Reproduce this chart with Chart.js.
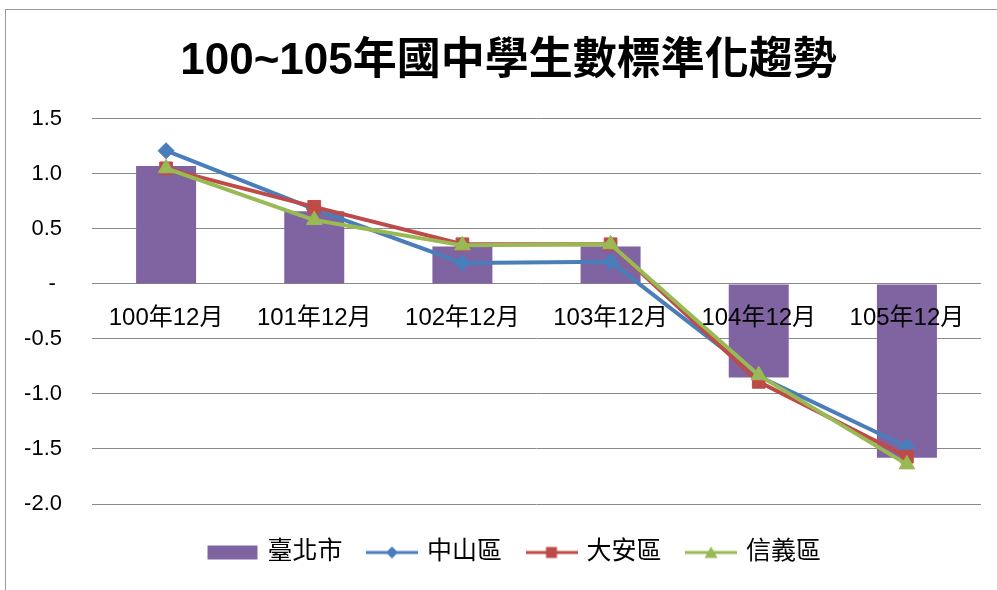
<!DOCTYPE html>
<html>
<head>
<meta charset="utf-8">
<script src="https://cdn.jsdelivr.net/npm/chart.js@4"></script>
<style>
html,body{margin:0;padding:0;background:#fff;}
canvas{display:block;}
</style>
</head>
<body>
<canvas id="c" width="997" height="590"></canvas>
<script>
const titleText = '100~105年國中學生數標準化趨勢';
const categories = ['100年12月', '101年12月', '102年12月', '103年12月', '104年12月', '105年12月'];
const seriesNames = ['臺北市', '中山區', '大安區', '信義區'];
const taipeiCity = [1.07, 0.66, 0.34, 0.34, -0.85, -1.58];
const zhongshan = [1.21, 0.68, 0.19, 0.20, -0.84, -1.48];
const daan = [1.05, 0.70, 0.36, 0.36, -0.89, -1.57];
const xinyi = [1.05, 0.58, 0.35, 0.36, -0.83, -1.64];
const yTickValues = [-2.0, -1.5, -1.0, -0.5, 0, 0.5, 1.0, 1.5];
const yTickLabels = ['-2.0', '-1.5', '-1.0', '-0.5', '- ', '0.5', '1.0', '1.5'];

const COLORS = {
  bar: '#8064A2',
  blue: '#4A7EBB',
  red: '#BE4B48',
  green: '#98B954'
};
const FONT = '"Liberation Sans", "Noto Sans CJK TC", sans-serif';

function makeIcon(kind, color) {
  const cv = document.createElement('canvas');
  cv.width = 52; cv.height = 16;
  const g = cv.getContext('2d');
  g.fillStyle = color; g.strokeStyle = color;
  if (kind === 'bar') {
    g.fillRect(1, 1, 50, 14);
    return cv;
  }
  g.lineWidth = 3;
  g.beginPath(); g.moveTo(0, 8); g.lineTo(52, 8); g.stroke();
  g.beginPath();
  if (kind === 'diamond') {
    g.moveTo(26, 2); g.lineTo(32, 8); g.lineTo(26, 14); g.lineTo(20, 8); g.closePath();
  } else if (kind === 'square') {
    g.rect(20.5, 2.5, 11, 11);
  } else {
    g.moveTo(26, 2); g.lineTo(32.5, 13.5); g.lineTo(19.5, 13.5); g.closePath();
  }
  g.fill();
  return cv;
}
const legendIcons = [
  makeIcon('bar', COLORS.bar),
  makeIcon('diamond', COLORS.blue),
  makeIcon('square', COLORS.red),
  makeIcon('triangle', COLORS.green)
];

const framePlugin = {
  id: 'frame',
  beforeDraw(chart) {
    const ctx = chart.ctx;
    ctx.save();
    ctx.fillStyle = '#ffffff';
    ctx.fillRect(0, 0, chart.width, chart.height);
    ctx.strokeStyle = '#9a9a9a';
    ctx.lineWidth = 1;
    ctx.strokeRect(5.5, 9.5, 1100, 700);
    ctx.restore();
  }
};

const placePlugin = {
  id: 'place',
  afterLayout(chart) {
    const lg = chart.legend;
    if (lg) {
      lg.left += 13; lg.right += 13;
      const h = lg.bottom - lg.top;
      lg.top = 513; lg.bottom = 513 + h;
    }
    const tb = chart.titleBlock;
    if (tb) { tb.left += 6; tb.right += 6; }
  }
};

new Chart(document.getElementById('c'), {
  type: 'bar',
  data: {
    labels: categories,
    datasets: [
      {
        type: 'bar', label: seriesNames[0], data: taipeiCity,
        backgroundColor: COLORS.bar, borderWidth: 0,
        barPercentage: 0.405, categoryPercentage: 1.0, order: 4
      },
      {
        type: 'line', label: seriesNames[1], data: zhongshan,
        borderColor: COLORS.blue, backgroundColor: COLORS.blue, borderWidth: 4,
        pointStyle: 'rectRot', pointRadius: 8, pointHoverRadius: 8, pointBorderWidth: 1,
        tension: 0, fill: false, order: 3
      },
      {
        type: 'line', label: seriesNames[2], data: daan,
        borderColor: COLORS.red, backgroundColor: COLORS.red, borderWidth: 4,
        pointStyle: 'rect', pointRadius: 9, pointHoverRadius: 9, pointBorderWidth: 1,
        tension: 0, fill: false, order: 2
      },
      {
        type: 'line', label: seriesNames[3], data: xinyi,
        borderColor: COLORS.green, backgroundColor: COLORS.green, borderWidth: 4,
        pointStyle: 'triangle', pointRadius: 9, pointHoverRadius: 9, pointBorderWidth: 1,
        tension: 0, fill: false, order: 1
      }
    ]
  },
  options: {
    responsive: false,
    animation: false,
    devicePixelRatio: 1,
    layout: { padding: { left: 24, right: 16, top: 0, bottom: 24 } },
    scales: {
      x: {
        type: 'category',
        position: { y: 0 },
        offset: true,
        grid: { display: false, drawTicks: false },
        border: { display: false },
        ticks: {
          z: 1,
          color: '#000', padding: 20, maxRotation: 0, autoSkip: false,
          font: { family: FONT, size: 24 }
        }
      },
      y: {
        min: -2, max: 1.5,
        afterFit: (scale) => { scale.width = 68; },
        grid: { color: '#8a8a8a', lineWidth: 1, drawTicks: false },
        border: { display: false },
        ticks: {
          stepSize: 0.5, padding: 30, color: '#000',
          font: { family: FONT, size: 22 },
          callback: (v) => {
            const i = yTickValues.findIndex(t => Math.abs(t - v) < 1e-9);
            return i >= 0 ? yTickLabels[i] : '';
          }
        }
      }
    },
    plugins: {
      title: {
        display: true, text: titleText, color: '#000',
        font: { family: FONT, size: 44, weight: 'bold', lineHeight: 1.2 },
        padding: { top: 35, bottom: 31 }
      },
      legend: {
        display: true, position: 'bottom',
        labels: {
          usePointStyle: true, pointStyleWidth: 45, padding: 27, color: '#000',
          font: { family: FONT, size: 25 },
          generateLabels: (chart) => chart.data.datasets.map((ds, i) => ({
            text: ds.label, pointStyle: legendIcons[i], fillStyle: ds.backgroundColor,
            strokeStyle: ds.borderColor || ds.backgroundColor, lineWidth: 0,
            hidden: false, datasetIndex: i, fontColor: '#000'
          }))
        }
      },
      tooltip: { enabled: false }
    }
  },
  plugins: [framePlugin, placePlugin]
});
</script>
</body>
</html>
